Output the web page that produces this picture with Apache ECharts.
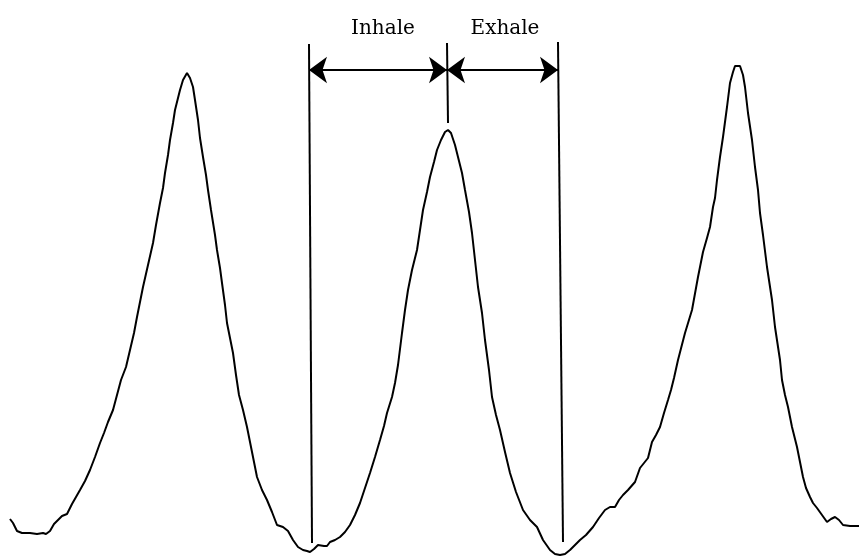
<!DOCTYPE html>
<html>
<head>
<meta charset="utf-8">
<title>Inhale / Exhale</title>
<script src="https://cdn.jsdelivr.net/npm/echarts@6/dist/echarts.min.js"></script>
<style>
  html, body { margin: 0; padding: 0; background: #fff; }
  #chart { width: 859px; height: 557px; }
</style>
</head>
<body>
<div id="chart"></div>
<script>
// breathing signal (time in samples, amplitude in arbitrary units)
var time = [10, 13, 17, 22, 30, 37, 43, 46, 50, 54, 58, 62, 67, 72, 76, 80, 85, 90, 95, 100,
  104, 108, 113, 117, 121, 126, 130, 134, 137, 140, 143, 148, 153, 156, 160, 163, 165, 168, 170, 173,
  175, 178, 180, 183, 187, 190, 193, 195, 198, 200, 203, 206, 208, 211, 215, 217, 220, 222, 225, 227,
  230, 233, 236, 239, 243, 247, 252, 257, 262, 267, 272, 277, 283, 288, 293, 298, 303, 307, 310, 314,
  318, 320, 324, 327, 330, 335, 340, 345, 350, 355, 360, 365, 370, 375, 380, 384, 387, 392, 395, 398,
  402, 405, 408, 412, 417, 420, 423, 427, 430, 434, 437, 441, 445, 448, 451, 455, 458, 462, 465, 469,
  472, 475, 478, 482, 485, 489, 492, 496, 500, 505, 510, 516, 523, 530, 537, 543, 550, 555, 560, 565,
  570, 575, 580, 586, 593, 599, 605, 610, 615, 619, 623, 628, 635, 640, 644, 648, 652, 656, 660, 664,
  668, 671, 674, 678, 685, 692, 698, 703, 707, 710, 713, 715, 717, 720, 723, 727, 730, 733, 735, 740,
  743, 745, 748, 752, 755, 758, 760, 763, 767, 772, 775, 780, 782, 785, 788, 792, 797, 800, 803, 806,
  810, 813, 817, 822, 827, 831, 835, 839, 843, 850, 859];
var amplitude = [38, 34, 26, 24, 24, 23, 24, 23, 26, 33, 37, 41, 43, 53, 60, 67, 76, 87, 100, 114,
  124, 135, 147, 162, 177, 190, 207, 224, 240, 255, 270, 292, 314, 332, 354, 369, 384, 402, 417, 434,
  447, 459, 467, 477, 484, 479, 470, 457, 437, 419, 400, 382, 367, 347, 322, 307, 289, 274, 252, 234,
  219, 204, 182, 162, 147, 130, 105, 80, 67, 57, 45, 32, 30, 26, 17, 10, 7, 6, 5, 8,
  12, 14, 11, 11, 15, 17, 20, 25, 32, 42, 54, 69, 84, 100, 117, 131, 144, 160, 174, 192,
  224, 247, 267, 287, 307, 327, 347, 365, 380, 395, 407, 417, 425, 427, 424, 412, 400, 384, 367, 345,
  324, 297, 270, 244, 217, 187, 160, 142, 127, 105, 84, 65, 47, 37, 30, 17, 7, 3, 2, 3,
  7, 12, 17, 22, 30, 39, 47, 50, 50, 57, 62, 67, 75, 89, 94, 99, 115, 122, 130, 144,
  157, 167, 179, 197, 224, 247, 280, 305, 319, 330, 350, 359, 377, 400, 420, 450, 474, 485, 491, 491,
  482, 470, 444, 417, 390, 367, 344, 322, 290, 257, 230, 197, 177, 162, 150, 130, 110, 95, 80, 69,
  60, 54, 49, 42, 35, 38, 40, 37, 32, 31, 31];

// phase markers: start of inhale, peak, end of exhale
var markerTop = [[309, 513], [447, 514], [558, 515]];
var markerBottom = [[312, 14], [448, 434], [563, 15]];
var arrowLevel = 487;
var phaseLabels = ['Inhale', 'Exhale'];
var labelPos = [[383, 528], [505, 528]];

var chart = echarts.init(document.getElementById('chart'));

var lines = [];
for (var i = 0; i < markerTop.length; i++) {
  lines.push([{ coord: markerTop[i] }, { coord: markerBottom[i] }]);
}
// double-headed arrows between the markers
for (var j = 0; j < markerTop.length - 1; j++) {
  lines.push([
    { coord: [markerTop[j][0], arrowLevel], symbol: 'arrow', symbolSize: [20, 18] },
    { coord: [markerTop[j + 1][0], arrowLevel], symbol: 'arrow', symbolSize: [20, 18] }
  ]);
}

var points = phaseLabels.map(function(name, k) {
  return { name: name, coord: labelPos[k] };
});

chart.setOption({
  animation: false,
  backgroundColor: '#fff',
  grid: { left: 0, right: 0, top: 0, bottom: 0 },
  xAxis: { type: 'value', min: 0, max: 859, show: false },
  yAxis: { type: 'value', min: 0, max: 557, show: false },
  series: [{
    type: 'line',
    data: time.map(function(t, k) { return [t, amplitude[k]]; }),
    showSymbol: false,
    lineStyle: { color: '#000', width: 2 },
    markLine: {
      silent: true,
      symbol: ['none', 'none'],
      lineStyle: { color: '#000', width: 2, type: 'solid' },
      label: { show: false },
      data: lines
    },
    markPoint: {
      silent: true,
      symbol: 'circle',
      symbolSize: 0,
      label: {
        show: true,
        position: 'inside',
        formatter: '{b}',
        color: '#000',
        fontFamily: 'DejaVu Serif',
        fontSize: 20
      },
      data: points
    }
  }]
});
</script>
</body>
</html>
